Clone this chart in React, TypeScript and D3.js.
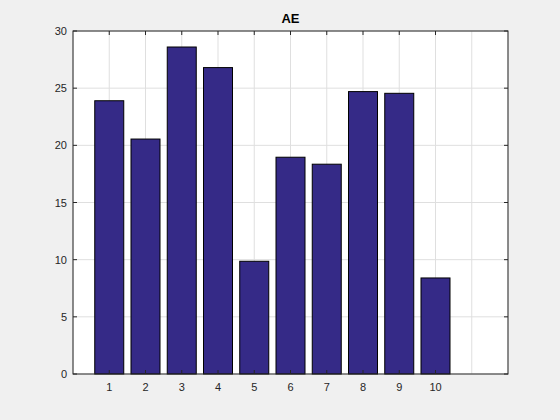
import React from "react";
import * as d3 from "d3";

const categories = [1, 2, 3, 4, 5, 6, 7, 8, 9, 10];
const values = [23.9, 20.55, 28.6, 26.8, 9.86, 18.96, 18.35, 24.7, 24.55, 8.4];
const xTicks = [1, 2, 3, 4, 5, 6, 7, 8, 9, 10];
const yTicks = [0, 5, 10, 15, 20, 25, 30];

export default function App() {
  const W = 560, H = 420;
  const L = 73, R = 508, T = 31, B = 374;
  const x = d3.scaleLinear().domain([0, 12]).range([L, R]);
  const y = d3.scaleLinear().domain([0, 30]).range([B, T]);
  const bw = (x(1) - x(0)) * 0.8;
  const gridX = d3.range(0, 13);
  const font = "Liberation Sans, Arial, sans-serif";
  return (
    <svg width={W} height={H} style={{ position: "absolute", left: 0, top: 0, background: "#f0f0f0" }}>
      <rect x={L} y={T} width={R - L} height={B - T} fill="#fff" />
      {gridX.map((g) => (
        <line key={"gx" + g} x1={x(g)} x2={x(g)} y1={T} y2={B} stroke="#dfdfdf" strokeWidth={1} />
      ))}
      {yTicks.map((g) => (
        <line key={"gy" + g} x1={L} x2={R} y1={y(g)} y2={y(g)} stroke="#dfdfdf" strokeWidth={1} />
      ))}
      {categories.map((c, i) => (
        <rect key={c} x={x(c) - bw / 2} y={y(values[i])} width={bw} height={B - y(values[i])}
          fill="#352a87" stroke="#000" strokeWidth={1} />
      ))}
      <rect x={L} y={T} width={R - L} height={B - T} fill="none" stroke="#262626" strokeWidth={1} />
      {xTicks.map((t) => (
        <g key={"xt" + t}>
          <line x1={x(t)} x2={x(t)} y1={B} y2={B - 4} stroke="#262626" />
          <line x1={x(t)} x2={x(t)} y1={T} y2={T + 4} stroke="#262626" />
          <text x={x(t)} y={B + 17} textAnchor="middle" fontSize={11} fontFamily={font} fill="#262626">{t}</text>
        </g>
      ))}
      {yTicks.map((t) => (
        <g key={"yt" + t}>
          <line x1={L} x2={L + 4} y1={y(t)} y2={y(t)} stroke="#262626" />
          <line x1={R} x2={R - 4} y1={y(t)} y2={y(t)} stroke="#262626" />
          <text x={L - 6} y={y(t) + 4} textAnchor="end" fontSize={11} fontFamily={font} fill="#262626">{t}</text>
        </g>
      ))}
      <text x={(L + R) / 2} y={23} textAnchor="middle" fontSize={13} fontWeight="bold" fontFamily={font} fill="#000">AE</text>
    </svg>
  );
}
